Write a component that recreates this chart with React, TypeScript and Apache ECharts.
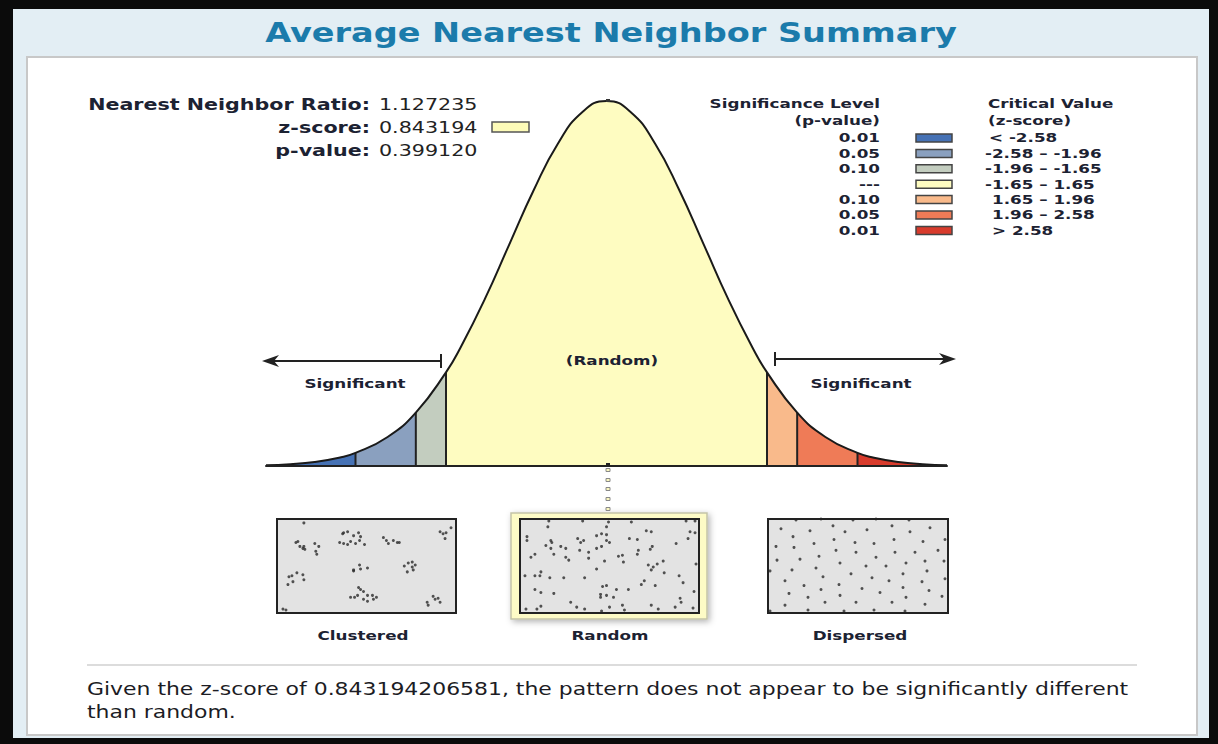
import React, { useEffect, useRef } from "react";
import * as echarts from "echarts";

const titleText = "Average Nearest Neighbor Summary";
const statLabels = ["Nearest Neighbor Ratio:", "z-score:", "p-value:"];
const statValues = ["1.127235", "0.843194", "0.399120"];

const curveZ = [-3.5, -3.25, -3, -2.75, -2.58, -2.25, -1.96, -1.65, -1.5, -1.25, -1, -0.75, -0.5, -0.25, 0, 0.25, 0.5, 0.75, 1, 1.25, 1.5, 1.65, 1.96, 2.25, 2.58, 2.75, 3, 3.25, 3.5];
const curveDensity = [0.0009, 0.002, 0.0044, 0.0091, 0.0143, 0.0317, 0.0584, 0.1023, 0.1295, 0.1826, 0.242, 0.3011, 0.3521, 0.3867, 0.3989, 0.3867, 0.3521, 0.3011, 0.242, 0.1826, 0.1295, 0.1023, 0.0584, 0.0317, 0.0143, 0.0091, 0.0044, 0.002, 0.0009];
const zoneBreaks = [-3.5, -2.58, -1.96, -1.65, 1.65, 1.96, 2.58, 3.5];
const zoneColors = ["#4672b5", "#8aa0bf", "#c3cdbf", "#fefcc1", "#f9ba8b", "#ef7b57", "#d83b2c"];

const legendPValues = ["0.01", "0.05", "0.10", "---", "0.10", "0.05", "0.01"];
const legendZRanges = ["< -2.58", "-2.58 \u2013 -1.96", "-1.96 \u2013 -1.65", "-1.65 \u2013 1.65", "1.65 \u2013 1.96", "1.96 \u2013 2.58", "> 2.58"];

const patternLabels = ["Clustered", "Random", "Dispersed"];

const clusteredPoints = [
  [27, 4], [19, 24], [21, 23], [23, 28], [26, 30], [28, 31], [27, 28],
  [38, 25], [42, 28], [39, 33], [40, 36],
  [66, 15], [67, 14], [71, 13], [77, 17], [82, 14], [84, 18], [63, 24], [67, 25], [71, 26], [74, 23], [79, 25], [83, 22], [88, 26],
  [107, 19], [110, 22], [112, 25], [117, 22], [121, 24], [123, 24],
  [164, 13], [167, 15], [170, 14], [175, 9], [169, 20],
  [77, 52], [77, 53], [83, 47], [84, 51], [91, 50],
  [128, 48], [132, 45], [136, 44], [139, 47], [131, 54], [137, 52], [136, 49],
  [12, 59], [15, 58], [20, 55], [26, 57], [27, 62], [11, 67], [16, 64],
  [82, 70], [84, 72], [87, 74], [74, 80], [78, 80], [81, 78], [87, 82], [91, 78], [96, 78], [97, 82], [91, 84], [100, 80],
  [151, 85], [152, 88], [157, 79], [159, 82], [162, 81], [164, 85],
  [6, 92], [9, 93]
];

const randomPoints = [
  [29, 2], [63, 2], [89, 3], [112, 3], [167, 2], [176, 2], [28, 8], [87, 8],
  [127, 12], [132, 13], [171, 13], [176, 14],
  [7, 18], [7, 22], [31, 22], [32, 24], [58, 20], [64, 22], [61, 24], [77, 17], [82, 15], [87, 16], [87, 22], [90, 24], [110, 20], [118, 21], [157, 25], [169, 20],
  [26, 27], [31, 30], [41, 28], [46, 30], [60, 32], [69, 34], [77, 30], [82, 28], [119, 32], [118, 36], [131, 31], [133, 28],
  [15, 36], [11, 39], [34, 36], [46, 39], [49, 42], [69, 40], [99, 38], [103, 37], [104, 44], [85, 43],
  [77, 51], [129, 47], [134, 49], [138, 46], [144, 43], [132, 52], [145, 55], [177, 46],
  [5, 58], [15, 58], [20, 58], [21, 54], [30, 60], [44, 60], [65, 60], [125, 63], [122, 67], [136, 68], [160, 58], [164, 65],
  [15, 72], [21, 75], [34, 76], [83, 69], [87, 68], [97, 72], [109, 72], [81, 77], [81, 80], [87, 78], [94, 80], [175, 74],
  [51, 85], [57, 90], [65, 92], [21, 89], [17, 92], [6, 92], [82, 94], [90, 90], [103, 88], [105, 93], [132, 88], [139, 92], [156, 90], [161, 81], [162, 85], [174, 91]
];

const dispersedPoints = [
  [28, 1], [53, 0], [85, 1], [108, 0], [141, 1],
  [13, 10], [42, 12], [65, 7], [77, 13], [99, 11], [124, 7], [142, 13], [162, 9],
  [25, 18], [66, 21], [46, 25], [87, 24], [106, 25], [126, 21], [155, 23], [177, 21],
  [8, 28], [26, 29], [68, 32], [88, 34], [127, 34], [147, 34], [170, 32],
  [9, 42], [32, 41], [51, 38], [72, 45], [108, 39], [138, 45], [157, 43], [176, 43],
  [24, 52], [48, 50], [83, 56], [98, 48], [118, 48], [159, 53], [2, 53],
  [55, 59], [104, 60], [135, 56], [17, 63], [121, 63], [154, 64], [177, 61],
  [36, 68], [71, 67], [53, 72], [94, 71], [135, 70], [161, 73],
  [21, 76], [40, 80], [72, 78], [112, 75], [138, 80], [174, 79],
  [17, 88], [57, 85], [88, 85], [124, 85], [157, 87],
  [40, 93], [76, 94], [106, 93], [137, 94], [2, 94]
];

const summaryLines = [
  "Given the z-score of 0.843194206581, the pattern does not appear to be significantly different",
  "than random."
];

const FONT = "'DejaVu Sans', Verdana, sans-serif";
const INK = "#1c2232";
const STRETCH = 1.29;

function txt(text: string, x: number, y: number, size: number, opts: any = {}) {
  return {
    type: "text",
    x,
    y,
    z: 20,
    scaleX: opts.scaleX ?? STRETCH,
    silent: true,
    style: {
      text,
      fill: opts.fill ?? INK,
      font: `${opts.bold ? "bold " : ""}${size}px ${FONT}`,
      textAlign: opts.align ?? "left",
      textVerticalAlign: "middle"
    }
  };
}

export default function App() {
  const ref = useRef<HTMLDivElement>(null);

  useEffect(() => {
    if (!ref.current) return;
    const chart = echarts.init(ref.current, undefined, { renderer: "svg" });

    const points = curveZ.map((z, k) => [z, curveDensity[k]]);
    const zoneSeries = zoneColors.map((c, i) => {
      const lo = zoneBreaks[i];
      const hi = zoneBreaks[i + 1];
      return {
        type: "line",
        xAxisIndex: 0,
        yAxisIndex: 0,
        data: points.filter((p) => p[0] >= lo - 1e-9 && p[0] <= hi + 1e-9),
        smooth: true,
        symbol: "none",
        lineStyle: { width: 0 },
        areaStyle: { color: c, opacity: 1 },
        z: 3,
        silent: true
      };
    });
    const breakSeries = zoneBreaks.slice(1, -1).map((b) => ({
      type: "line",
      xAxisIndex: 0,
      yAxisIndex: 0,
      data: [[b, 0], [b, curveDensity[curveZ.indexOf(b)]]],
      symbol: "none",
      lineStyle: { color: "#222", width: 2 },
      z: 4,
      silent: true
    }));
    const outline = {
      type: "line",
      xAxisIndex: 0,
      yAxisIndex: 0,
      data: points,
      smooth: true,
      symbol: "none",
      lineStyle: { color: "#1a1a1a", width: 2 },
      z: 5,
      silent: true,
      clip: false
    };

    const boxes = [
      { left: 277, top: 519, width: 179, height: 94, pts: clusteredPoints },
      { left: 520, top: 519, width: 179, height: 94, pts: randomPoints },
      { left: 768, top: 519, width: 180, height: 94, pts: dispersedPoints }
    ];

    const grids: any[] = [{ left: 266, top: 100, width: 681, height: 366 }];
    const xAxes: any[] = [{
      gridIndex: 0, type: "value", min: -3.5, max: 3.5, z: 10,
      axisLine: { show: true, lineStyle: { color: "#222", width: 2 } },
      axisTick: { show: false }, axisLabel: { show: false }, splitLine: { show: false }
    }];
    const yAxes: any[] = [{ gridIndex: 0, type: "value", min: 0, max: 0.4, show: false, splitLine: { show: false } }];
    const scatterSeries: any[] = [];
    boxes.forEach((b, i) => {
      grids.push({ left: b.left, top: b.top, width: b.width, height: b.height });
      xAxes.push({ gridIndex: i + 1, type: "value", min: 0, max: 180, show: false, splitLine: { show: false } });
      yAxes.push({ gridIndex: i + 1, type: "value", min: 0, max: 96, inverse: true, show: false, splitLine: { show: false } });
      scatterSeries.push({
        type: "scatter",
        xAxisIndex: i + 1,
        yAxisIndex: i + 1,
        data: b.pts,
        symbol: "circle",
        symbolSize: 3,
        itemStyle: { color: "#2b2b2b" },
        z: 6,
        silent: true
      });
    });

    const graphics: any[] = [];
    // page frame
    graphics.push({ type: "rect", z: -20, silent: true, shape: { x: 13, y: 9, width: 1196, height: 729 }, style: { fill: "#e3eef4" } });
    graphics.push({ type: "rect", z: -19, silent: true, shape: { x: 27, y: 57, width: 1170, height: 678 }, style: { fill: "#ffffff", stroke: "#c8c8c8", lineWidth: 2 } });
    graphics.push(txt(titleText, 611, 33, 26, { bold: true, fill: "#1b7bab", align: "center" }));

    // stats
    statLabels.forEach((l, i) => {
      const y = 104 + i * 23;
      graphics.push(txt(l, 370, y, 16, { bold: true, align: "right" }));
      graphics.push(txt(statValues[i], 379, y, 16, { fill: "#222" }));
    });
    graphics.push({ type: "rect", z: 20, silent: true, shape: { x: 492, y: 122, width: 37, height: 10 }, style: { fill: "#fdfbb8", stroke: "#555", lineWidth: 1.5 } });

    // legend
    graphics.push(txt("Significance Level", 880, 104, 13, { bold: true, align: "right" }));
    graphics.push(txt("(p-value)", 880, 121, 13, { bold: true, align: "right" }));
    graphics.push(txt("Critical Value", 988, 104, 13, { bold: true }));
    graphics.push(txt("(z-score)", 988, 121, 13, { bold: true }));
    legendPValues.forEach((p, i) => {
      const y = 138 + i * 15.4;
      graphics.push(txt(p, 880, y, 13, { bold: true, align: "right" }));
      graphics.push({ type: "rect", z: 20, silent: true, shape: { x: 916, y: y - 4, width: 36, height: 8 }, style: { fill: zoneColors[i], stroke: "#444", lineWidth: 1.5 } });
      const r = legendZRanges[i];
      const off = r.startsWith("-") ? 985 : r.startsWith("<") ? 989 : 992;
      graphics.push(txt(r, off, y, 13, { bold: true }));
    });

    // arrows & labels
    graphics.push({ type: "line", z: 20, silent: true, shape: { x1: 268, y1: 361, x2: 441, y2: 361 }, style: { stroke: "#222", lineWidth: 2 } });
    graphics.push({ type: "line", z: 20, silent: true, shape: { x1: 441, y1: 354, x2: 441, y2: 368 }, style: { stroke: "#222", lineWidth: 2 } });
    graphics.push({ type: "polygon", z: 20, silent: true, shape: { points: [[262, 361], [279, 355], [274, 361], [279, 367]] }, style: { fill: "#222" } });
    graphics.push({ type: "line", z: 20, silent: true, shape: { x1: 775, y1: 359, x2: 950, y2: 359 }, style: { stroke: "#222", lineWidth: 2 } });
    graphics.push({ type: "line", z: 20, silent: true, shape: { x1: 775, y1: 352, x2: 775, y2: 366 }, style: { stroke: "#222", lineWidth: 2 } });
    graphics.push({ type: "polygon", z: 20, silent: true, shape: { points: [[956, 359], [939, 353], [944, 359], [939, 365]] }, style: { fill: "#222" } });
    graphics.push(txt("Significant", 355, 384, 13, { bold: true, align: "center" }));
    graphics.push(txt("Significant", 861, 384, 13, { bold: true, align: "center" }));
    graphics.push(txt("(Random)", 612, 361, 13, { bold: true, align: "center" }));

    // connector
    graphics.push({ type: "rect", z: 20, silent: true, shape: { x: 606, y: 463, width: 4, height: 4 }, style: { fill: "#222" } });
    graphics.push({ type: "rect", z: 20, silent: true, shape: { x: 606, y: 99, width: 4, height: 3 }, style: { fill: "#333" } });
    [470, 480, 489, 499, 509].forEach((y) => {
      graphics.push({ type: "rect", z: 20, silent: true, shape: { x: 606, y: y - 1.5, width: 4, height: 3 }, style: { fill: "#fbf8c0", stroke: "#888", lineWidth: 1 } });
    });

    // boxes
    graphics.push({ type: "rect", z: -5, silent: true, shape: { x: 511, y: 513, width: 196, height: 106 }, style: { fill: "#fdfbc6", stroke: "#c4c4a8", lineWidth: 1.5, shadowBlur: 6, shadowColor: "rgba(0,0,0,0.3)", shadowOffsetX: 2, shadowOffsetY: 2 } });
    boxes.forEach((b) => {
      graphics.push({ type: "rect", z: -4, silent: true, shape: { x: b.left, y: b.top, width: b.width, height: b.height }, style: { fill: "#e3e3e3" } });
      graphics.push({ type: "rect", z: 30, silent: true, shape: { x: b.left, y: b.top, width: b.width, height: b.height }, style: { fill: "none", stroke: "#222", lineWidth: 2 } });
    });
    const labelX = [363, 610, 860];
    patternLabels.forEach((l, i) => graphics.push(txt(l, labelX[i], 636, 13, { bold: true, align: "center" })));

    // summary
    graphics.push({ type: "line", z: 20, silent: true, shape: { x1: 87, y1: 665, x2: 1137, y2: 665 }, style: { stroke: "#dcdcdc", lineWidth: 2 } });
    summaryLines.forEach((s, i) => graphics.push(txt(s, 87, 689 + i * 23, 17, { fill: "#1c1c24" })));

    chart.setOption({
      animation: false,
      backgroundColor: "#0b0b0b",
      grid: grids,
      xAxis: xAxes,
      yAxis: yAxes,
      graphic: { elements: graphics },
      series: [...zoneSeries, ...breakSeries, outline, ...scatterSeries]
    });
    return () => chart.dispose();
  }, []);

  return <div ref={ref} style={{ position: "fixed", left: 0, top: 0, width: 1218, height: 744 }} />;
}
